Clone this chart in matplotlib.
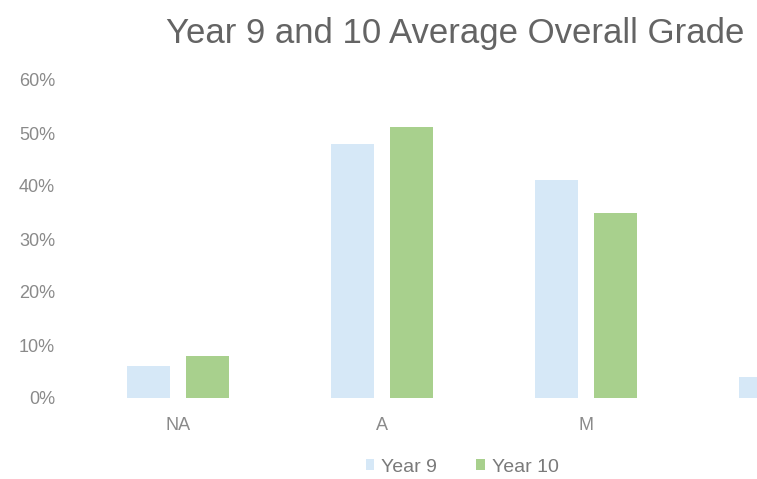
import matplotlib
matplotlib.use("Agg")
import matplotlib.pyplot as plt
import numpy as np

categories = ["NA", "A", "M", "E"]
year9 = [6.0, 47.9, 41.2, 4.0]
year10 = [7.9, 51.1, 35.0, 6.0]
yticks = [0, 10, 20, 30, 40, 50, 60]
title = "Year 9 and 10 Average Overall Grade"

plt.rcParams['font.family'] = ['Liberation Sans', 'DejaVu Sans']
W, H = 757, 479
fig = plt.figure(figsize=(W/100, H/100), dpi=100)
ax = fig.add_axes([76/W, 81/H, 1 - 76/W, (398-80)/H])

x = np.arange(len(categories))
c9, c10 = "#d6e8f7", "#a8d08d"
ax.bar(x - 0.143, year9, width=0.21, color=c9, label="Year 9")
ax.bar(x + 0.143, year10, width=0.21, color=c10, label="Year 10")

ax.set_yticks(yticks)
ax.set_yticklabels([f"{v}%" for v in yticks])
ax.set_xticks(x[:3])
ax.set_xticklabels(categories[:3])
ax.set_xlim(-0.5, 2.838)
ax.set_ylim(0, 60)
for s in ax.spines.values():
    s.set_visible(False)
ax.tick_params(axis='both', length=0, colors="#8a8a8a", labelsize=13)
ax.tick_params(axis='y', pad=15)
ax.tick_params(axis='x', pad=14)

fig.text(455/W, 1 - 33/H, title, ha='center', va='center', fontsize=25, color="#646464")

leg = fig.legend(loc='center', bbox_to_anchor=(462/W, 1 - 467/H), ncol=2, frameon=False,
                 fontsize=14, handlelength=0.45, handleheight=0.45, handletextpad=0.35,
                 columnspacing=2.0, labelcolor="#7a7a7a")

fig.savefig("out.png", dpi=100)
